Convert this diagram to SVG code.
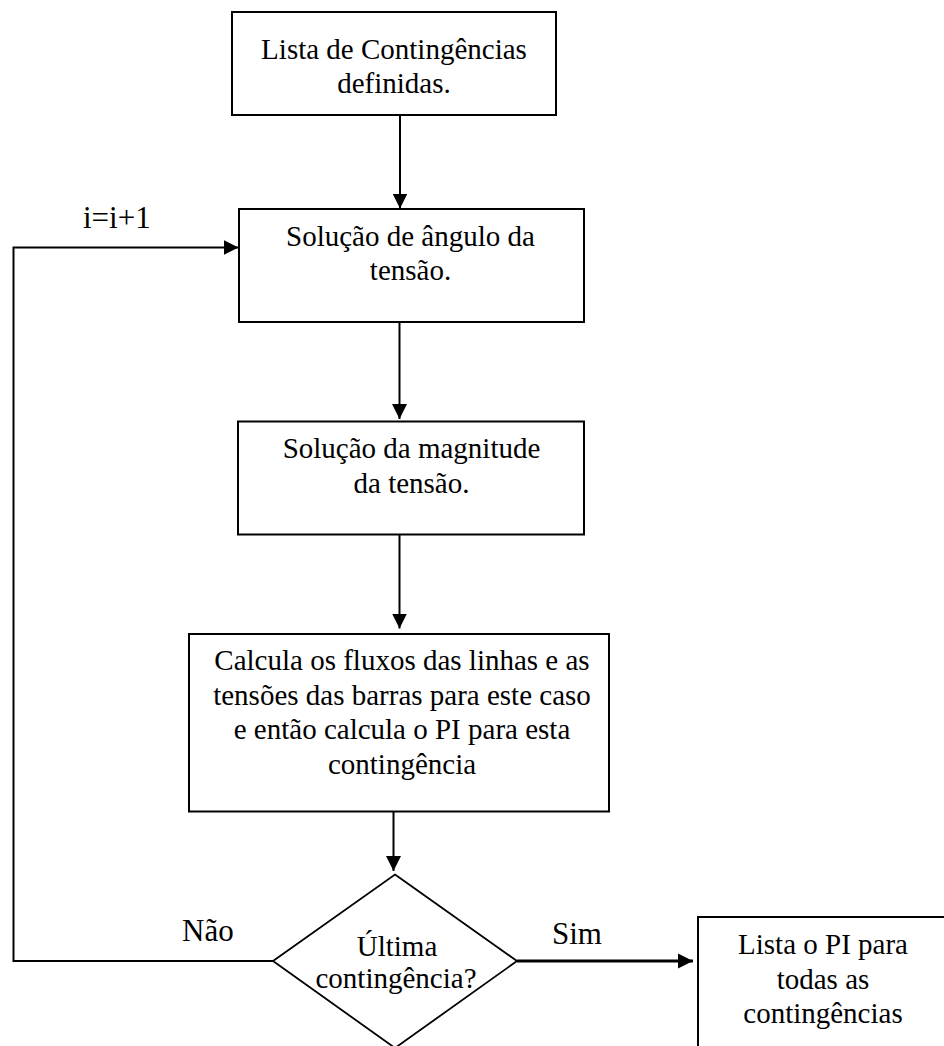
<svg xmlns="http://www.w3.org/2000/svg" width="944" height="1046" viewBox="0 0 944 1046">
<style>
.box{fill:#fff;stroke:#000;stroke-width:2}
.dia{fill:#fff;stroke:#000;stroke-width:1.8}
.t{font-family:"Liberation Serif","Times New Roman",serif;font-size:29px;fill:#000;text-anchor:middle}
.lbl{font-family:"Liberation Serif","Times New Roman",serif;font-size:31px;fill:#000}
.c{fill:none;stroke:#000;stroke-width:2}
.c2{fill:none;stroke:#000;stroke-width:3}
</style>
<defs>
<marker id="ah" markerUnits="userSpaceOnUse" markerWidth="16" markerHeight="16" refX="15" refY="8" orient="auto" viewBox="0 0 16 16">
<path d="M0,0.5 L15,8 L0,15.5 z" fill="#000"/>
</marker>
</defs>
<rect width="944" height="1046" fill="#fff"/>
<g id="connectors">
<line class="c" x1="400" y1="115" x2="400" y2="208.5" marker-end="url(#ah)"/>
<line class="c" x1="399.5" y1="322" x2="399.5" y2="419" marker-end="url(#ah)"/>
<line class="c" x1="399.5" y1="534" x2="399.5" y2="628.5" marker-end="url(#ah)"/>
<line class="c" x1="393.5" y1="808" x2="393.5" y2="871" marker-end="url(#ah)"/>
<polyline class="c" points="273,961 13.5,961 13.5,247.5 238.5,247.5" marker-end="url(#ah)"/>
<line class="c2" x1="517" y1="961" x2="693" y2="961" marker-end="url(#ah)"/>
</g>
<g id="n1">
<rect class="box" x="232" y="12" width="324" height="103"/>
<text class="t" x="394" y="58.5">Lista de Contingências</text>
<text class="t" x="394" y="92.5">definidas.</text>
</g>
<g id="n2">
<rect class="box" x="239" y="209" width="345" height="113"/>
<text class="t" x="410.5" y="246">Solução de ângulo da</text>
<text class="t" x="410.5" y="280">tensão.</text>
</g>
<g id="n3">
<rect class="box" x="238" y="421.5" width="346" height="113"/>
<text class="t" x="411.5" y="458">Solução da magnitude</text>
<text class="t" x="411.5" y="493">da tensão.</text>
</g>
<g id="n4">
<rect class="box" x="189" y="634" width="420" height="177.5"/>
<text class="t" x="402" y="670">Calcula os fluxos das linhas e as</text>
<text class="t" x="402" y="704.5">tensões das barras para este caso</text>
<text class="t" x="402" y="739">e então calcula o PI para esta</text>
<text class="t" x="402" y="773.5">contingência</text>
</g>
<g id="n5">
<polygon class="dia" points="395,874.5 517,961 395,1048 273,961"/>
<text class="t" x="397" y="956">Última</text>
<text class="t" x="396" y="988">contingência?</text>
</g>
<g id="n6">
<rect class="box" x="698" y="917" width="260" height="200"/>
<text class="t" x="823" y="954">Lista o PI para</text>
<text class="t" x="823" y="989">todas as</text>
<text class="t" x="823" y="1022.5">contingências</text>
</g>
<g id="labels">
<text class="lbl" x="83" y="227.5">i=i+1</text>
<text class="lbl" x="182" y="941">Não</text>
<text class="lbl" x="552" y="943.5">Sim</text>
</g>
</svg>
